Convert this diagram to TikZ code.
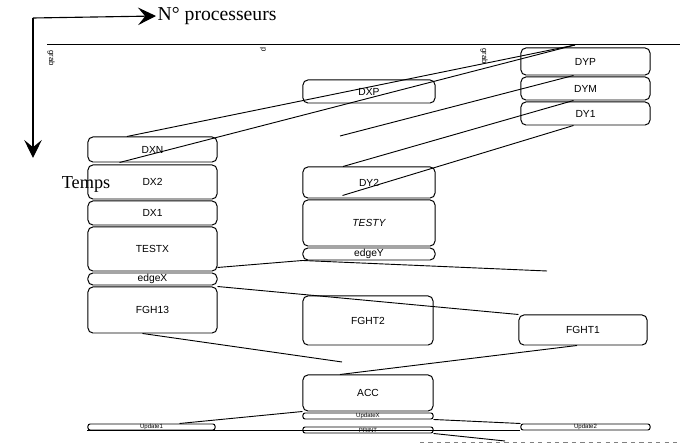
\documentclass[tikz,border=0pt]{standalone}
\usepackage{fontspec}
\setmainfont{Liberation Serif}
\setsansfont{Liberation Sans}
\usetikzlibrary{arrows.meta,positioning,calc}
\tikzset{%
  task/.style={draw,line width=0.7pt,rounded corners=3.5pt,align=center,inner sep=0pt,minimum width=3.225cm,font=\sffamily\fontsize{7.3}{8}\selectfont},
  thin/.style={task,rounded corners=1.5pt,minimum height=0.15cm,font=\sffamily\fontsize{4.3}{4.3}\selectfont},
  msg/.style={line width=0.65pt}%
}

\begin{document}
\begin{tikzpicture}[
    x=0.025cm, y=-0.025cm,
    axis/.style={-{Stealth[length=4.5mm,width=4.4mm,inset=1.8mm]}, line width=0.8pt},
    tag/.style={rotate=-90, inner sep=0pt, font=\sffamily\fontsize{5.5}{6}\selectfont}
]
\useasboundingbox (0,0) rectangle (680,444);

% axes
\coordinate (orig) at (33,18);
\coordinate (tdown) at (33,158);
\node[anchor=west, inner sep=1pt, font=\fontsize{14}{16}\selectfont] (proc) at (156,16) {N° processeurs};
\node[anchor=east, inner sep=1pt, font=\fontsize{13}{15}\selectfont] (temps) at (112,184) {Temps};
\draw[axis] (orig) -- (proc.west);
\draw[axis] (orig) -- (tdown);

\coordinate (lineL) at (47,44);
\coordinate (lineR) at (680,44);
\draw[msg] (lineL) -- (lineR);
\node[tag] (grab1) at (51,58) {grab};
\node[tag] (p2) at (263,50) {p};
\node[tag] (grab3) at (484,56) {grab};

% processor 1
\node[task, minimum height=0.625cm] (DXN) at (152.5,149.5) {DXN};
\node[task, minimum height=0.85cm] (DX2) at (152.5,182) {DX2};
\node[task, minimum height=0.6cm] (DX1) at (152.5,213) {DX1};
\node[task, minimum height=1.1cm] (TESTX) at (152.5,249) {TESTX};
\node[task, minimum height=0.3cm] (edgeX) at (152.5,279) {edgeX};
\node[task, minimum height=1.15cm] (FGH13) at (152.5,310) {FGH13};
\node[thin, minimum width=3.175cm] (thinL) at (151.5,427) {Update1};

% processor 2
\node[task, minimum width=3.3cm, minimum height=0.575cm] (DXP) at (369,91.5) {DXP};
\node[task, minimum width=3.3cm, minimum height=0.775cm] (DY2) at (369,182.5) {DY2};
\node[task, minimum width=3.3cm, minimum height=1.15cm] (TESTY) at (369,223) {\itshape TESTY};
\node[task, minimum width=3.3cm, minimum height=0.3cm] (edgeY) at (369,254) {edgeY};
\node[task, minimum width=3.25cm, minimum height=1.225cm] (FGHT2) at (368,320.5) {FGHT2};
\node[task, minimum width=3.25cm, minimum height=0.9cm] (ACC) at (368,393) {ACC};
\node[thin, minimum width=3.25cm] (thinC1) at (368,416) {UpdateX};
\node[thin, minimum width=3.25cm] (thinC2) at (368,430) {PRINT};

% processor 3
\node[task, minimum height=0.675cm] (DYP) at (585.5,61.5) {DYP};
\node[task, minimum height=0.575cm] (DYM) at (585.5,88.5) {DYM};
\node[task, minimum height=0.575cm] (DY1) at (585.5,113.5) {DY1};
\node[task, minimum width=3.2cm, minimum height=0.75cm] (FGHT1) at (583,330) {FGHT1};
\node[thin, minimum width=3.225cm] (thinR) at (585.5,427) {Update2};

% messages
\coordinate (yp) at (575,45);
\draw[msg] (yp) -- ([xshift=-0.64cm]DXN.north);
\draw[msg] (yp) -- ([xshift=0.8cm]DXN.south west);
\coordinate (loose1) at (340,136);
\draw[msg] ([xshift=-0.3cm]DYP.south) -- (loose1);
\draw[msg] ([xshift=-0.3cm]DYM.south) -- ([xshift=-0.65cm]DY2.north);
\draw[msg] ([xshift=-0.3cm]DY1.south) -- ([xshift=1cm,yshift=0.075cm]DY2.south west);
\coordinate (loose2) at (547,271);
\draw[msg] ([yshift=0.1cm]TESTX.south east) -- (edgeY.south west) -- (loose2);
\draw[msg] (FGH13.north east) -- (FGHT1.north west);
\coordinate (loose3) at (342,362);
\draw[msg] ([xshift=-0.25cm]FGH13.south) -- (loose3);
\draw[msg] ([xshift=-0.15cm]FGHT1.south) -- ([xshift=-0.7cm]ACC.north);
\draw[msg] ([xshift=0.7cm]thinL.north) -- (ACC.south west);
\draw[msg] (thinC1.south east) -- (thinR.north west);
\draw[msg] (thinL.south west) -- (thinR.south west);
\coordinate (loose4) at (505,441);
\draw[msg] (thinC2.south east) -- (loose4);
\coordinate (edgeA) at (420,442);
\coordinate (edgeB) at (680,442);
\draw[gray, dashed] (edgeA) -- (edgeB);

\end{tikzpicture}
\end{document}
